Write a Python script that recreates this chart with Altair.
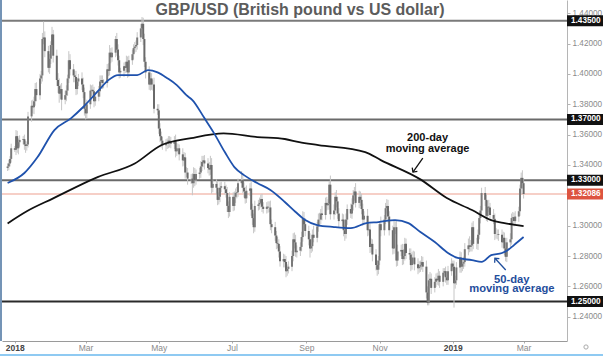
import altair as alt
import pandas as pd

# ---------------- data ----------------
first_open = 1.3380
closes = [
    1.3390, 1.3410, 1.3440, 1.3510,
    1.3500, 1.3590, 1.3510, 1.3550, 1.3565,
    1.3570, 1.3535, 1.3525, 1.3535, 1.3720,
    1.3790, 1.3780, 1.3820, 1.3900, 1.3860,
    1.3970, 1.3990, 1.4230, 1.4240, 1.4150,
    1.4040, 1.4100, 1.4190, 1.4260, 1.4120,
    1.3960, 1.3920, 1.3870, 1.3900, 1.3830,
    1.3860, 1.3890, 1.3970, 1.4090, 1.4030,
    1.3990, 1.3980, 1.3900, 1.3950, 1.3970,
    1.3930, 1.3880, 1.3770, 1.3740, 1.3800,
    1.3890, 1.3895, 1.3885, 1.3820, 1.3850,
    1.3885, 1.3950, 1.3960, 1.3940, 1.3940,
    1.4030, 1.4020, 1.4140, 1.4110, 1.4140,
    1.4230, 1.4160, 1.4090, 1.4010, 1.4020,
    1.4050, 1.4040, 1.4080, 1.4010, 1.4090,
    1.4130, 1.4170, 1.4180, 1.4190, 1.4240,
    1.4300, 1.4330, 1.4230, 1.4080, 1.4010,
    1.3930, 1.3970, 1.3930, 1.3930, 1.3770,
    1.3760, 1.3640, 1.3590, 1.3560, 1.3530,
    1.3540, 1.3540, 1.3560, 1.3550, 1.3540,
    1.3560, 1.3490, 1.3510, 1.3510, 1.3470,
    1.3430, 1.3450, 1.3350, 1.3350, 1.3310,
    1.3310, 1.3280, 1.3340, 1.3300, 1.3340,
    1.3350, 1.3390, 1.3420, 1.3430, 1.3410,
    1.3380, 1.3370, 1.3400, 1.3250, 1.3275,
    1.3250, 1.3170, 1.3190, 1.3250, 1.3260,
    1.3240, 1.3215, 1.3130, 1.3090, 1.3190,
    1.3130, 1.3190, 1.3215, 1.3220, 1.3280,
    1.3300, 1.3250, 1.3225, 1.3180, 1.3230,
    1.3245, 1.3105, 1.3050, 1.2990, 1.3130,
    1.3140, 1.3150, 1.3175, 1.3125, 1.3110,
    1.3125, 1.3120, 1.3120, 1.3010, 1.2990,
    1.2935, 1.2885, 1.2880, 1.2830, 1.2765,
    1.2780, 1.2760, 1.2700, 1.2715, 1.2730,
    1.2800, 1.2910, 1.2890, 1.2825, 1.2835,
    1.2860, 1.2925, 1.3045, 1.3010, 1.2965,
    1.2910, 1.2850, 1.2865, 1.2940, 1.2920,
    1.2995, 1.3040, 1.3040, 1.3080, 1.3070,
    1.3150, 1.3135, 1.3145, 1.3270, 1.3075,
    1.3100, 1.3190, 1.3160, 1.3080, 1.3030,
    1.3040, 1.2970, 1.2945, 1.3040, 1.3110,
    1.3080, 1.3140, 1.3200, 1.3225, 1.3150,
    1.3190, 1.3170, 1.3110, 1.3040, 1.3065,
    1.2970, 1.2975, 1.2860, 1.2880, 1.2810,
    1.2740, 1.2710, 1.2770, 1.3010, 1.2970,
    1.3040, 1.3115, 1.3130, 1.3060, 1.2970,
    1.2850, 1.2990, 1.2990, 1.2770, 1.2830,
    1.2840, 1.2780, 1.2800, 1.2880, 1.2820,
    1.2810, 1.2740, 1.2790, 1.2790, 1.2745,
    1.2720, 1.2730, 1.2740, 1.2760, 1.2730,
    1.2560, 1.2490, 1.2640, 1.2650, 1.2590,
    1.2630, 1.2650, 1.2640, 1.2670, 1.2630,
    1.2690, 1.2700, 1.2660, 1.2640, 1.2700,
    1.2750, 1.2730, 1.2620, 1.2640, 1.2725,
    1.2790, 1.2730, 1.2750, 1.2760, 1.2845,
    1.2870, 1.2860, 1.2870, 1.2990, 1.2880,
    1.2880, 1.2940, 1.3050, 1.3100, 1.3215,
    1.3170, 1.3065, 1.3125, 1.3120, 1.3070,
    1.3045, 1.2945, 1.2945, 1.2945, 1.2940,
    1.2890, 1.2920, 1.2850, 1.2795, 1.2890,
    1.2910, 1.3050, 1.3055, 1.3030, 1.3060,
    1.3095, 1.3245, 1.3315, 1.3280, 1.32086,
]
upper_wick_pips = [
    20, 25, 18, 30,
    15, 40, 35, 25, 30,
    20, 30, 25, 20, 30,
    35, 40, 30, 40, 45,
    30, 30, 40, 105, 40,
    35, 30, 25, 50, 30,
    40, 45, 50, 30, 40,
    30, 35, 25, 60, 40,
    35, 30, 40, 25, 30,
    40, 45, 30, 35, 30,
    40, 30, 35, 30, 30,
    35, 40, 30, 30, 25,
    35, 40, 50, 30, 35,
    20, 40, 35, 30, 20,
    25, 30, 40, 35, 30,
    30, 25, 30, 30, 35,
    30, 45, 40, 35, 30,
    40, 40, 35, 30, 45,
    30, 40, 35, 30, 25,
    30, 35, 30, 30, 35,
    30, 40, 35, 30, 25,
    40, 35, 30, 35, 30,
    30, 35, 45, 40, 30,
    30, 35, 40, 30, 35,
    35, 40, 60, 45, 30,
    30, 45, 30, 35, 30,
    30, 30, 40, 30, 30,
    30, 35, 30, 35, 30,
    60, 40, 35, 30, 35,
    35, 50, 40, 30, 35,
    30, 35, 30, 35, 30,
    30, 35, 40, 45, 30,
    35, 30, 40, 30, 35,
    35, 30, 40, 30, 35,
    35, 40, 45, 50, 35,
    30, 35, 50, 45, 40,
    35, 40, 45, 35, 60,
    30, 40, 45, 30, 50,
    35, 40, 30, 25, 60,
    40, 30, 45, 30, 35,
    40, 35, 30, 40, 30,
    35, 40, 35, 30, 55,
    40, 35, 40, 35, 30,
    45, 40, 40, 35, 30,
    35, 30, 30, 20, 50,
    30, 35, 45, 40, 35,
    30, 50, 40, 40, 45,
    35, 40, 45, 40, 35,
    30, 40, 35, 45, 40,
    40, 35, 30, 40, 35,
    40, 40, 40, 45, 35,
    30, 35, 40, 45, 30,
    30, 20, 30, 40, 35,
    35, 20, 40, 30, 35,
    40, 35, 30, 35, 40,
    45, 60, 35, 30, 40,
    40, 35, 40, 30, 35,
    40, 35, 40, 45, 30,
    40, 35, 40, 30, 30,
    35, 40, 35, 40, 30,
    40, 30, 35, 30, 35,
    30, 25, 35, 50, 30,
]
lower_wick_pips = [
    20, 25, 20, 25,
    15, 35, 30, 40, 30,
    30, 35, 45, 30, 20,
    35, 40, 45, 30, 40,
    30, 35, 40, 35, 40,
    30, 40, 35, 30, 45,
    40, 45, 60, 35, 70,
    30, 40, 35, 30, 40,
    45, 35, 40, 35, 30,
    35, 40, 45, 40, 35,
    30, 35, 40, 40, 30,
    30, 35, 30, 40, 35,
    30, 35, 30, 40, 30,
    30, 40, 35, 40, 35,
    40, 35, 30, 35, 30,
    30, 35, 30, 35, 30,
    30, 35, 40, 35, 40,
    35, 40, 35, 40, 30,
    30, 35, 40, 45, 30,
    40, 35, 30, 35, 30,
    35, 40, 30, 35, 40,
    40, 35, 40, 30, 40,
    35, 80, 30, 40, 30,
    30, 35, 30, 35, 40,
    35, 40, 35, 40, 30,
    40, 35, 30, 35, 30,
    35, 30, 40, 40, 30,
    35, 30, 40, 35, 30,
    30, 35, 40, 35, 30,
    35, 40, 45, 40, 30,
    30, 35, 30, 35, 30,
    30, 35, 30, 40, 40,
    35, 40, 30, 40, 35,
    40, 35, 40, 30, 30,
    30, 35, 40, 30, 35,
    35, 30, 30, 40, 35,
    40, 60, 30, 35, 30,
    30, 35, 40, 30, 35,
    30, 35, 30, 40, 35,
    35, 30, 40, 35, 40,
    35, 40, 45, 30, 35,
    30, 35, 40, 35, 30,
    35, 40, 35, 40, 30,
    40, 35, 40, 35, 45,
    35, 40, 30, 30, 40,
    35, 30, 35, 40, 35,
    40, 35, 45, 40, 35,
    30, 40, 35, 30, 40,
    35, 40, 30, 35, 40,
    40, 30, 35, 30, 35,
    40, 15, 15, 35, 40,
    30, 35, 30, 35, 40,
    30, 20, 35, 30, 30,
    30, 20, 160, 35, 30,
    35, 40, 30, 35, 30,
    40, 35, 30, 40, 35,
    35, 40, 30, 35, 30,
    40, 35, 40, 30, 35,
    35, 40, 30, 35, 40,
    35, 40, 45, 30, 35,
    30, 35, 40, 35, 30,
    35, 30, 40, 35, 30,
]

ma200_dates = ["2017-12-26", "2018-01-11", "2018-02-02", "2018-03-11", "2018-04-11",
               "2018-05-03", "2018-05-28", "2018-06-24", "2018-07-22", "2018-08-14",
               "2018-08-26", "2018-09-11", "2018-10-20", "2018-11-02", "2018-12-05",
               "2018-12-27", "2019-01-17", "2019-02-02", "2019-02-13", "2019-03-01"]
ma200_values = [1.3015, 1.3095, 1.3180, 1.3320, 1.3410,
                1.3530, 1.3577, 1.3608, 1.3584, 1.3571,
                1.3550, 1.3531, 1.3485, 1.3432, 1.3305,
                1.3182, 1.3103, 1.3037, 1.3017, 1.2997]

ma50_dates = ["2017-12-26", "2018-01-09", "2018-01-20", "2018-02-03", "2018-02-17",
              "2018-02-27", "2018-03-12", "2018-03-20", "2018-03-28", "2018-04-13",
              "2018-04-22", "2018-04-30", "2018-05-08", "2018-05-16", "2018-05-24",
              "2018-05-29", "2018-06-08", "2018-06-16", "2018-06-25", "2018-07-03",
              "2018-07-11", "2018-07-22", "2018-08-02", "2018-08-14", "2018-08-23",
              "2018-08-31", "2018-09-10", "2018-09-24", "2018-10-08", "2018-10-21",
              "2018-10-31", "2018-11-14", "2018-11-25", "2018-12-05", "2018-12-17",
              "2018-12-28", "2019-01-05", "2019-01-17", "2019-01-25", "2019-02-02",
              "2019-02-11", "2019-02-16", "2019-02-21", "2019-03-01"]
ma50_values = [1.3281, 1.3347, 1.3452, 1.3630, 1.3709,
               1.3782, 1.3893, 1.3959, 1.3992, 1.3992,
               1.4025, 1.4010, 1.3972, 1.3926, 1.3860,
               1.3828, 1.3709, 1.3610, 1.3485, 1.3386,
               1.3333, 1.3281, 1.3235, 1.3156, 1.3090,
               1.3037, 1.3004, 1.2991, 1.2984, 1.3017,
               1.3024, 1.3037, 1.3017, 1.2958, 1.2892,
               1.2820, 1.2787, 1.2773, 1.2762, 1.2806,
               1.2820, 1.2840, 1.2872, 1.2925]

level_values = [1.435, 1.37, 1.33, 1.25]
level_labels = ["1.43500", "1.37000", "1.33000", "1.25000"]
last_price = [1.32086]
last_label = ["1.32086"]

y_tick_values = [1.24, 1.26, 1.28, 1.30, 1.34, 1.36, 1.38, 1.40, 1.42, 1.44]
x_tick_dates = ["2018-01-01", "2018-03-01", "2018-05-01", "2018-07-01",
                "2018-09-01", "2018-11-01", "2019-01-01", "2019-03-01"]
x_tick_labels = ["2018", "Mar", "May", "Jul", "Sep", "Nov", "2019", "Mar"]

title_text = "GBP/USD (British pound vs US dollar)"
annot200_text = ["200-day", "moving average"]
annot200_day = [344.0, 344.0]
annot200_price = [1.3577, 1.3505]
annot50_text = ["50-day", "moving average"]
annot50_day = [414.2, 414.2]
annot50_price = [1.2645, 1.2580]
arrow200 = {"day": 340.0, "price": 1.3445, "day2": 331.8, "price2": 1.3353}
arrow50 = {"day": 409.1, "price": 1.2708, "day2": 400.1, "price2": 1.2785}

# ---------------- frames ----------------
base = pd.Timestamp("2018-01-01")
dates = pd.bdate_range("2017-12-26", "2019-03-01")
assert len(dates) == len(closes) == len(upper_wick_pips) == len(lower_wick_pips)
opens = [first_open] + closes[:-1]
df = pd.DataFrame({
    "day": (dates - base).days,
    "open": opens,
    "close": closes,
})
df["high"] = df[["open", "close"]].max(axis=1) + pd.Series(upper_wick_pips) / 10000
df["low"] = df[["open", "close"]].min(axis=1) - pd.Series(lower_wick_pips) / 10000
df["dir"] = ["up" if c >= o else "down" for o, c in zip(df["open"], df["close"])]

ma200 = pd.DataFrame({"day": (pd.to_datetime(ma200_dates) - base).days, "ma": ma200_values})
ma50 = pd.DataFrame({"day": (pd.to_datetime(ma50_dates) - base).days, "ma": ma50_values})
levels = pd.DataFrame({"level": level_values, "label": level_labels})
last_df = pd.DataFrame({"level": last_price, "label": last_label})
a200 = pd.DataFrame({"day": annot200_day, "price": annot200_price, "text": annot200_text})
a50 = pd.DataFrame({"day": annot50_day, "price": annot50_price, "text": annot50_text})
arr200 = pd.DataFrame([arrow200])
arr50 = pd.DataFrame([arrow50])

x_tick_days = [int((pd.Timestamp(d) - base).days) for d in x_tick_dates]
label_expr = "".join(f"datum.value=={d}?'{l}':" for d, l in zip(x_tick_days, x_tick_labels)) + "''"
year_test = " || ".join(f"datum.value=={d}" for d, l in zip(x_tick_days, x_tick_labels) if l.isdigit())

# ---------------- styles ----------------
W, H = 565, 341
SANS = "'Liberation Sans', Arial, sans-serif"

xscale = alt.Scale(domain=[-6.5, 456], nice=False, zero=False)
yscale = alt.Scale(domain=[1.224, 1.4487], nice=False, zero=False)
xaxis = alt.Axis(values=x_tick_days, labelExpr=label_expr, title=None, grid=False,
                 domainColor="#9a9a9a", tickColor="#b0b0b0", tickSize=2, labelPadding=0,
                 labelFont=SANS, labelFontSize=8.5,
                 labelColor={"condition": {"test": year_test, "value": "#444444"}, "value": "#8a8a8a"},
                 labelFontWeight={"condition": {"test": year_test, "value": "bold"}, "value": "normal"},
                 labelFlush=False, labelOverlap=False)
yaxis = alt.Axis(orient="right", values=y_tick_values, format=".5f", title=None, grid=False,
                 domainColor="#b5b5b5", tickColor="#b5b5b5", tickSize=3, labelPadding=2,
                 labelFont=SANS, labelFontSize=8.2, labelColor="#8a8a8a", labelOverlap=False)


def X(field):
    return alt.X(field, type="quantitative", scale=xscale, axis=xaxis)


def Y(field):
    return alt.Y(field, type="quantitative", scale=yscale, axis=yaxis)


candles = alt.Chart(df)
wicks = candles.mark_rule(color="#c6c6c6", strokeWidth=1).encode(
    x=X("day"), y=Y("low"), y2="high")
bodies = candles.mark_bar(width=2.0).encode(
    x=X("day"), y=Y("open"), y2="close",
    color=alt.Color("dir:N", scale=alt.Scale(domain=["up", "down"], range=["#4f9a65", "#b4473a"]), legend=None))

level_rules = alt.Chart(levels).mark_rule(strokeWidth=2).encode(
    y=Y("level"),
    color=alt.Color("label:N", scale=alt.Scale(domain=level_labels,
                                               range=["#7a7a7a", "#6a6a6a", "#6a6a6a", "#2a2a2a"]), legend=None))
last_rule = alt.Chart(last_df).mark_rule(strokeWidth=2, color="#f6cfc7").encode(y=Y("level"))

line200 = alt.Chart(ma200).mark_line(color="#111111", strokeWidth=1.8, interpolate="monotone").encode(
    x=X("day"), y=Y("ma"))
line50 = alt.Chart(ma50).mark_line(color="#1f52ad", strokeWidth=1.8, interpolate="monotone").encode(
    x=X("day"), y=Y("ma"))

level_boxes = alt.Chart(levels).mark_rect(color="#111111", yOffset=-5.5, y2Offset=5.5, clip=False).encode(
    x=alt.value(W), x2=alt.value(W + 36), y=Y("level"), y2="level")
level_text = alt.Chart(levels).mark_text(align="left", baseline="middle", color="white", font=SANS,
                                         fontSize=8.2, fontWeight="bold", clip=False).encode(
    x=alt.value(W + 4), y=Y("level"), text="label:N")
last_box = alt.Chart(last_df).mark_rect(color="#dd5440", yOffset=-5.5, y2Offset=5.5, clip=False).encode(
    x=alt.value(W), x2=alt.value(W + 36), y=Y("level"), y2="level")
last_text = alt.Chart(last_df).mark_text(align="left", baseline="middle", color="white", font=SANS,
                                         fontSize=8.2, fontWeight="bold", clip=False).encode(
    x=alt.value(W + 4), y=Y("level"), text="label:N")

t200 = alt.Chart(a200).mark_text(font=SANS, fontSize=11, fontWeight="bold", color="#111111",
                                 baseline="middle", align="center").encode(
    x=X("day"), y=Y("price"), text="text:N")
t50 = alt.Chart(a50).mark_text(font=SANS, fontSize=11.2, fontWeight="bold", color="#1f4e9c",
                               baseline="middle", align="center").encode(
    x=X("day"), y=Y("price"), text="text:N")

shaft200 = alt.Chart(arr200).mark_rule(color="#111111", strokeWidth=1.3).encode(
    x=X("day"), y=Y("price"), x2="day2", y2="price2")
head200 = alt.Chart(arr200).mark_point(shape="M -1 1 L 0 0 L 1 1", filled=False, size=40,
                                       strokeWidth=1.3, color="#111111", angle=215.5, opacity=1).encode(
    x=X("day2"), y=Y("price2"))
shaft50 = alt.Chart(arr50).mark_rule(color="#1f4e9c", strokeWidth=1.3).encode(
    x=X("day"), y=Y("price"), x2="day2", y2="price2")
head50 = alt.Chart(arr50).mark_point(shape="M -1 1 L 0 0 L 1 1", filled=False, size=40,
                                     strokeWidth=1.3, color="#1f4e9c", angle=318.4, opacity=1).encode(
    x=X("day2"), y=Y("price2"))

title = alt.Chart(pd.DataFrame({"t": [title_text]})).mark_text(
    font=SANS, fontSize=16, fontWeight="bold", color="#5c5c5c", align="center", baseline="middle").encode(
    x=alt.value(298), y=alt.value(10), text="t:N")

left_frame = alt.Chart(pd.DataFrame({"t": [0]})).mark_rule(color="#46709e", strokeWidth=1.5, clip=False).encode(
    x=alt.value(-1), y=alt.value(0), y2=alt.value(H))
bottom_frame = alt.Chart(pd.DataFrame({"t": [0]})).mark_rule(color="#8fcaf2", strokeWidth=2, clip=False).encode(
    x=alt.value(-2), x2=alt.value(W + 38), y=alt.value(H + 14))
gear = alt.Chart(pd.DataFrame({"t": [0]})).mark_point(shape="circle", filled=False, size=18, color="#888888",
                                                     strokeWidth=1, clip=False).encode(
    x=alt.value(W + 19), y=alt.value(H + 6))

chart = alt.layer(
    level_rules, last_rule, wicks, bodies, line200, line50,
    level_boxes, level_text, last_box, last_text,
    t200, t50, shaft200, head200, shaft50, head50, title,
    left_frame, bottom_frame, gear,
).properties(
    width=W, height=H,
    autosize=alt.AutoSizeParams(type="none"),
    padding={"left": 2, "top": 0, "right": 36, "bottom": 15},
    background="white",
).configure_view(stroke=None)

chart.save("out.html", embed_options={"renderer": "svg", "actions": False})
